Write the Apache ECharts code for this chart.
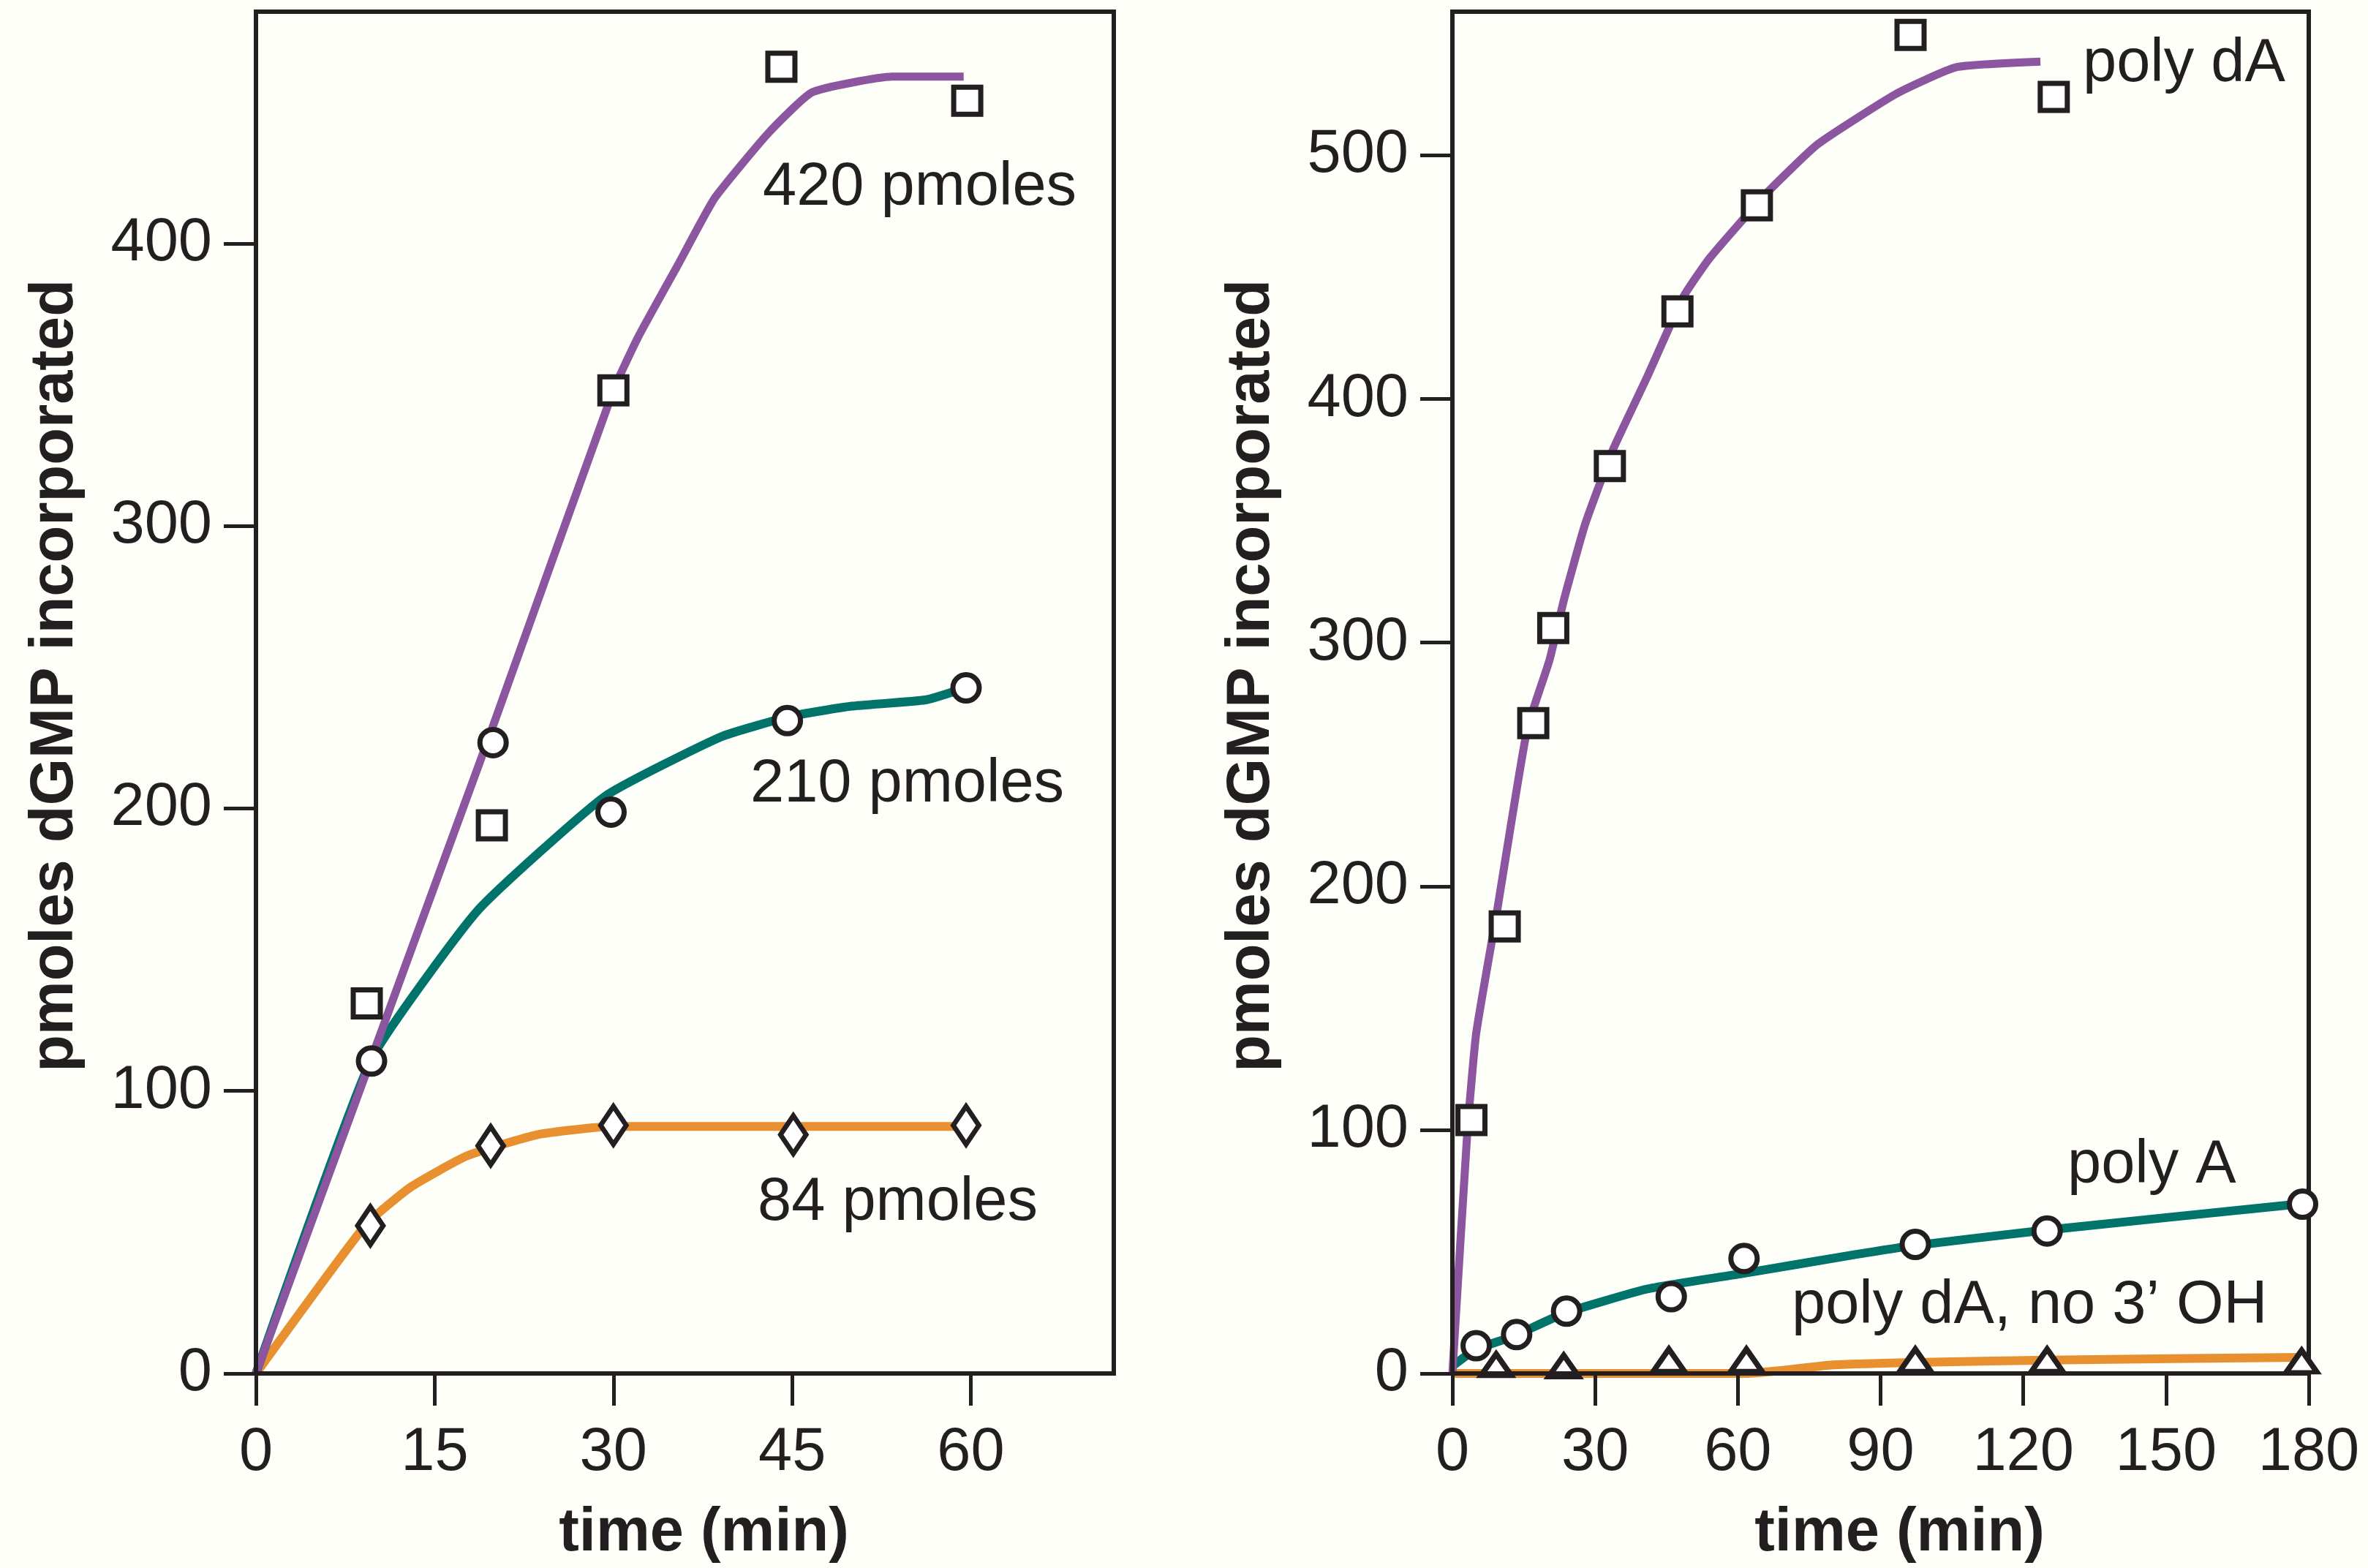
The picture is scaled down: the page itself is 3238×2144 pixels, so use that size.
<!DOCTYPE html>
<html><head><meta charset="utf-8">
<script src="https://cdn.jsdelivr.net/npm/echarts@6/dist/echarts.min.js"></script>
<style>html,body{margin:0;padding:0;background:#fffffa}#c{width:3238px;height:2144px}</style>
</head><body><div id="c"></div>
<script>
// ---- Left panel (template amount) ----
const leftXTicks = [0, 15, 30, 45, 60];
const leftYTicks = [0, 100, 200, 300, 400];
const p420Time = [9.3, 19.8, 30, 44.1, 59.7];
const p420Val = [131, 194, 348, 462.5, 450.5];
const p420FitTime = [0, 19.8, 30, 32.1, 35.5, 38.5, 43, 46.7, 53.4, 59.4];
const p420FitVal = [0, 228, 348, 367, 393, 416, 439, 453.5, 459, 459];
const p210Time = [9.7, 19.9, 29.8, 44.6, 59.6];
const p210Val = [110.6, 223.3, 198.7, 231.1, 242.7];
const p210FitTime = [0, 9.65, 18.6, 29.3, 39, 44.9, 50, 56.2, 59.4];
const p210FitVal = [0, 110.9, 163.8, 204.3, 225.3, 232.6, 236.2, 238.4, 242.5];
const p84Time = [9.6, 19.7, 30, 45.1, 59.6];
const p84Val = [52.3, 80.6, 87.8, 84.5, 87.8];
const p84FitTime = [0, 9.2, 13, 17.7, 23.6, 29.8, 45, 59.7];
const p84FitVal = [0, 52.5, 66, 77, 84.5, 87.4, 87.4, 87.4];

// ---- Right panel (template type) ----
const rightXTicks = [0, 30, 60, 90, 120, 150, 180];
const rightYTicks = [0, 100, 200, 300, 400, 500];
const polydATime = [4, 11, 17, 21.2, 33.1, 47.3, 64, 96.3, 126.4];
const polydAVal = [104, 183.5, 267, 306, 372.5, 436, 479.5, 549.5, 524];
const polydAFitTime = [0, 3.1, 5, 9.4, 15.7, 20.4, 23.5, 27.9, 33.7, 40.8, 48.6, 54.1, 65.9, 76.8, 93.3, 105.9, 123.6];
const polydAFitVal = [0, 98, 139.6, 190, 264.3, 292.8, 318, 348.6, 379, 408.5, 442.1, 457.9, 484.2, 504.6, 525.3, 536.2, 538.5];
const polyATime = [5, 13.5, 24, 46, 61.3, 97.3, 125, 178.7];
const polyAVal = [11.4, 16, 25.6, 31.5, 47.2, 53, 58.5, 69.5];
const polyAFitTime = [0, 5, 12.5, 23.5, 40.8, 61.2, 84.7, 97, 124, 178];
const polyAFitVal = [3, 10, 15, 24.7, 34.6, 41.1, 48.8, 52.5, 58.7, 69.6];
const no3OHTime = [9.2, 23.4, 45.5, 61.8, 97.3, 125, 178.5];
const no3OHVal = [3.5, 3, 5.5, 5.5, 5.5, 5.5, 5];
const no3OHFitTime = [0, 62, 80, 97, 125, 178];
const no3OHFitVal = [0, 0, 3.5, 4.5, 5.5, 6.6];

const INK = '#231f20';
const PURPLE = '#8c55a0';
const TEAL = '#00736b';
const ORANGE = '#e8902f';
const FONT = '"Liberation Sans", Arial, Helvetica, sans-serif';
const FS = 83;

const zip = (a, b) => a.map((v, i) => [v, b[i]]);

function xAxisCfg(grid, max, ticks) {
  return {
    gridIndex: grid, type: 'value', min: 0, max: max, interval: ticks[1] - ticks[0], z: 8,
    axisLine: { show: true, onZero: false, lineStyle: { color: INK, width: 6 } },
    axisTick: { show: true, length: 44, customValues: ticks, lineStyle: { color: INK, width: 5 } },
    axisLabel: { customValues: ticks, fontSize: FS, color: INK, fontFamily: FONT, margin: 68 },
    splitLine: { show: false },
    name: 'time (min)', nameLocation: 'middle', nameGap: 178,
    nameTextStyle: { fontSize: FS, fontWeight: 'bold', color: INK, fontFamily: FONT, padding: [0, 0, 0, 52] }
  };
}
function yAxisCfg(grid, max, ticks) {
  return {
    gridIndex: grid, type: 'value', min: 0, max: max, interval: 100, z: 8,
    axisLine: { show: true, onZero: false, lineStyle: { color: INK, width: 6 } },
    axisTick: { show: true, length: 44, customValues: ticks, lineStyle: { color: INK, width: 5 } },
    axisLabel: { customValues: ticks, fontSize: FS, color: INK, fontFamily: FONT, margin: 60 },
    splitLine: { show: false },
    name: 'pmoles dGMP incorporated', nameLocation: 'middle', nameGap: 232,
    nameTextStyle: { fontSize: FS, fontWeight: 'bold', color: INK, fontFamily: FONT, padding: [0, 0, 0, 46] }
  };
}
function fitLine(xi, data, color, width) {
  return { type: 'line', xAxisIndex: xi, yAxisIndex: xi, data: data, showSymbol: false, symbol: 'none',
    lineStyle: { color: color, width: width, cap: 'butt', join: 'round' }, z: 2, silent: true, animation: false, smooth: 0.15 };
}
function pts(xi, data, symbol, size) {
  return { type: 'scatter', xAxisIndex: xi, yAxisIndex: xi, data: data, symbol: symbol, symbolSize: size,
    itemStyle: { color: '#ffffff', borderColor: INK, borderWidth: 7, opacity: 1 }, z: 6, clip: false, silent: true, animation: false };
}
function note(text, x, y) {
  return { type: 'text', x: x, y: y, z: 10,
    style: { text: text, fill: INK, fontSize: FS, fontFamily: FONT, align: 'left', verticalAlign: 'middle' } };
}

const chart = echarts.init(document.getElementById('c'), null, { renderer: 'canvas' });
chart.setOption({
  backgroundColor: '#fffffa',
  animation: false,
  grid: [
    { left: 350, top: 16, width: 1173, height: 1865, show: true, borderColor: INK, borderWidth: 6, backgroundColor: 'transparent' },
    { left: 1986, top: 16, width: 1171, height: 1865, show: true, borderColor: INK, borderWidth: 6, backgroundColor: 'transparent' }
  ],
  xAxis: [xAxisCfg(0, 72, leftXTicks), xAxisCfg(1, 180, rightXTicks)],
  yAxis: [yAxisCfg(0, 482, leftYTicks), yAxisCfg(1, 559, rightYTicks)],
  series: [
    fitLine(0, zip(p84FitTime, p84FitVal), ORANGE, 12),
    fitLine(0, zip(p210FitTime, p210FitVal), TEAL, 12),
    fitLine(0, zip(p420FitTime, p420FitVal), PURPLE, 11),
    pts(0, zip(p420Time, p420Val), 'rect', 37),
    pts(0, zip(p210Time, p210Val), 'circle', 36),
    pts(0, zip(p84Time, p84Val), 'diamond', [35, 52]),
    fitLine(1, zip(no3OHFitTime, no3OHFitVal), ORANGE, 12),
    fitLine(1, zip(polyAFitTime, polyAFitVal), TEAL, 12),
    fitLine(1, zip(polydAFitTime, polydAFitVal), PURPLE, 11),
    pts(1, zip(polydATime, polydAVal), 'rect', 37),
    pts(1, zip(polyATime, polyAVal), 'circle', 36),
    pts(1, zip(no3OHTime, no3OHVal), 'triangle', [42, 30])
  ],
  graphic: [
    note('420 pmoles', 1043, 257),
    note('210 pmoles', 1026, 1073),
    note('84 pmoles', 1036, 1645),
    note('poly dA', 2848, 88),
    note('poly A', 2827, 1594),
    note('poly dA, no 3\u2019 OH', 2450, 1786)
  ]
});
</script></body></html>
